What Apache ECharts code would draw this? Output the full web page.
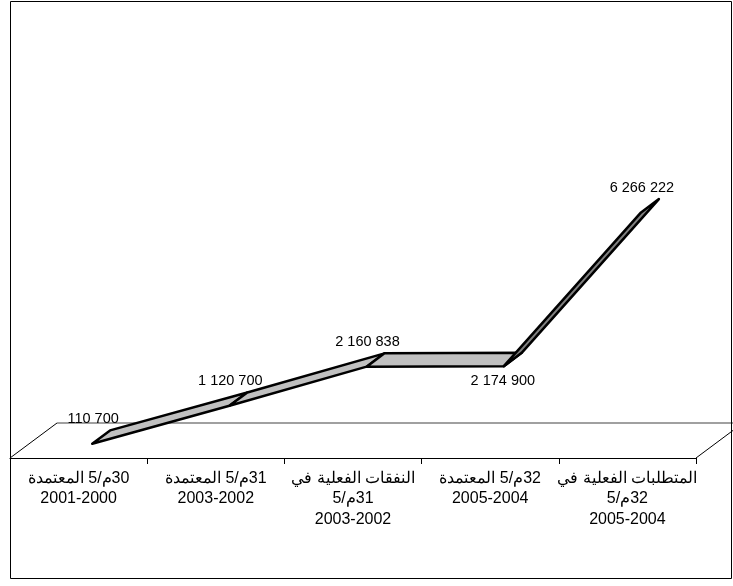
<!DOCTYPE html>
<html><head><meta charset="utf-8">
<script src="https://cdn.jsdelivr.net/npm/echarts@6/dist/echarts.min.js"></script>
<style>html,body{margin:0;padding:0;background:#fff}#c{width:733px;height:586px}</style>
</head><body><div id="c"></div>
<script>
// ---- data ----
const categories = [
  '30م/5 المعتمدة\n2001-2000',
  '31م/5 المعتمدة\n2003-2002',
  'النفقات الفعلية في\n31م/5\n2003-2002',
  '32م/5 المعتمدة\n2005-2004',
  'المتطلبات الفعلية في\n32م/5\n2005-2004'
];
const values = [110700, 1120700, 2160838, 2174900, 6266222];
const labelSides = ['top', 'top', 'top', 'bottom', 'top'];

// ---- style / 3D projection constants ----
const DX = 47, DY = -35;      // full floor depth offset in px
const F1 = 0.29, F2 = 0.67;   // ribbon front / back depth fractions
const FONT = "'Liberation Sans', Arial, sans-serif";

function fmt(v) { return String(v).replace(/\B(?=(\d{3})+(?!\d))/g, ' '); }
function rtl(s) {
  return s.split('\n').map(l => /[\u0600-\u06FF]/.test(l) ? '\u202B' + l + '\u202C' : l).join('\n');
}

const segData = values.slice(0, -1).map((v, i) => [i, v, i + 1, values[i + 1]]);
const ptData = values.map((v, i) => [i, v, i]);

const chart = echarts.init(document.getElementById('c'), null, {renderer: 'canvas'});
chart.setOption({
  animation: false,
  backgroundColor: '#fff',
  grid: {left: 10, right: 37, top: 195, bottom: 128, outerBoundsMode: 'none', containLabel: false},
  xAxis: {
    type: 'category', data: categories, boundaryGap: true,
    axisLine: {lineStyle: {color: '#000', width: 1}},
    axisTick: {show: true, length: 6, alignWithLabel: false, interval: 0, lineStyle: {color: '#000', width: 1}},
    axisLabel: {interval: 0, margin: 10, fontSize: 16, lineHeight: 20.5, color: '#000',
      fontFamily: FONT, formatter: rtl, hideOverlap: false},
    splitLine: {show: false}
  },
  yAxis: {type: 'value', min: 0, max: 7000000, show: false, splitLine: {show: false}},
  graphic: [{
    type: 'rect', z: 100, silent: true,
    shape: {x: 10.5, y: 1.5, width: 721, height: 577},
    style: {fill: null, stroke: '#000', lineWidth: 1}
  }],
  series: [
    { // floor
      type: 'custom', z: 1, silent: true, clip: false,
      data: [[0, 0]],
      renderItem(params, api) {
        const cs = params.coordSys;
        const x0 = cs.x, x1 = cs.x + cs.width, y0 = cs.y + cs.height;
        return {type: 'group', children: [
          {type: 'line', shape: {x1: x0, y1: y0, x2: x0 + DX, y2: y0 + DY}, style: {stroke: '#000', lineWidth: 1}},
          {type: 'line', shape: {x1: x1, y1: y0, x2: x1 + DX, y2: y0 + DY}, style: {stroke: '#000', lineWidth: 1}},
          {type: 'line', shape: {x1: x0 + DX, y1: y0 + DY, x2: x1 + DX, y2: y0 + DY}, style: {stroke: '#808080', lineWidth: 1.5}}
        ]};
      }
    },
    { // ribbon
      type: 'custom', z: 3, silent: true, clip: false,
      data: segData,
      renderItem(params, api) {
        const a = api.coord([api.value(0), api.value(1)]);
        const b = api.coord([api.value(2), api.value(3)]);
        const fa = [a[0] + DX * F1, a[1] + DY * F1], fb = [b[0] + DX * F1, b[1] + DY * F1];
        const ba = [a[0] + DX * F2, a[1] + DY * F2], bb = [b[0] + DX * F2, b[1] + DY * F2];
        const steep = Math.abs((b[1] - a[1]) / (b[0] - a[0])) > 1;
        return {type: 'polygon', shape: {points: [fa, fb, bb, ba]},
          style: {fill: steep ? '#808080' : '#c0c0c0', stroke: '#000', lineWidth: 2.5, lineJoin: 'round'}};
      }
    },
    { // value labels
      type: 'custom', z: 5, silent: true, clip: false,
      data: ptData,
      renderItem(params, api) {
        const i = api.value(2);
        const p = api.coord([api.value(0), api.value(1)]);
        let x, y;
        if (labelSides[i] === 'bottom') { x = p[0] + DX * F1 - 1; y = p[1] + DY * F1 + 15; }
        else { x = p[0] + DX * F2 - 17; y = p[1] + DY * F2 - 11; }
        return {type: 'text', x: x, y: y,
          style: {text: fmt(api.value(1)), fill: '#000', font: '14.5px ' + FONT, align: 'center', verticalAlign: 'middle'}};
      }
    }
  ]
});
</script></body></html>
